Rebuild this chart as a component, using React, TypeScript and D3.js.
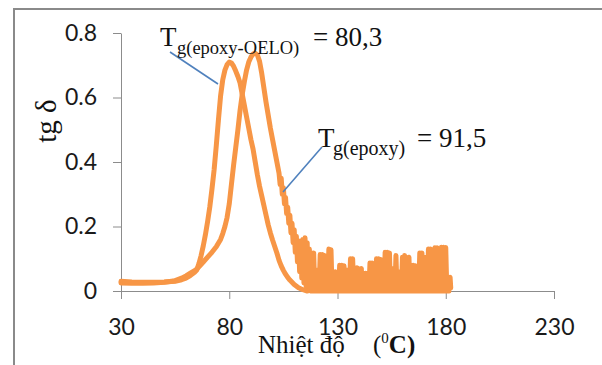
import React, { useRef, useEffect } from 'react';
import * as d3 from 'd3';

// tg delta vs temperature (DMA), two samples
const oeloTemp = [30, 35, 40, 45, 50, 55, 58, 60, 62, 64, 65, 66, 67, 68, 69, 70, 71, 72, 73, 74, 75, 76, 77, 78, 79, 80, 81, 82, 83, 84, 85, 86, 87, 88, 89, 90, 91, 92, 93, 94, 95, 96, 97, 98, 99, 100, 101, 102, 103, 104, 105, 106, 107, 108, 110, 112, 114, 116];
const oeloVal = [0.03, 0.028, 0.027, 0.027, 0.028, 0.03, 0.035, 0.04, 0.048, 0.058, 0.065, 0.085, 0.11, 0.14, 0.175, 0.215, 0.26, 0.315, 0.375, 0.45, 0.53, 0.605, 0.655, 0.685, 0.702, 0.71, 0.707, 0.697, 0.682, 0.665, 0.645, 0.61, 0.575, 0.54, 0.505, 0.47, 0.44, 0.4, 0.36, 0.325, 0.295, 0.265, 0.235, 0.205, 0.18, 0.158, 0.138, 0.118, 0.095, 0.078, 0.064, 0.052, 0.042, 0.034, 0.02, 0.01, 0.004, 0];

const epoxyTemp = [30, 35, 40, 45, 50, 55, 58, 60, 62, 64, 65, 66, 68, 70, 72, 74, 76, 77, 78, 79, 80, 81, 82, 83, 84, 85, 86, 87, 88, 89, 90, 91, 92, 93, 94, 95, 96, 97, 98, 99, 100, 101, 102, 103];
const epoxyVal = [0.025, 0.024, 0.024, 0.025, 0.027, 0.032, 0.04, 0.047, 0.055, 0.063, 0.068, 0.075, 0.09, 0.105, 0.12, 0.137, 0.16, 0.178, 0.2, 0.228, 0.27, 0.33, 0.39, 0.445, 0.5, 0.56, 0.61, 0.65, 0.685, 0.71, 0.725, 0.735, 0.737, 0.732, 0.712, 0.675, 0.63, 0.585, 0.545, 0.505, 0.47, 0.435, 0.4, 0.365];

// noisy tail of the epoxy curve [temp, tg delta]
const epoxyTail: [number, number][] = [
  [103.5, 0.33], [104, 0.35], [104.5, 0.3], [105, 0.32], [105.5, 0.27], [106, 0.29], [106.5, 0.24], [107, 0.26],
  [107.5, 0.21], [108, 0.235], [108.5, 0.18], [109, 0.21], [109.5, 0.15], [110, 0.19], [110.5, 0.12], [111, 0.17],
  [111.5, 0.09], [112, 0.155], [112.5, 0.06], [113, 0.155], [113.5, 0.04], [114, 0.16], [114.5, 0.025], [115, 0.165],
  [115.5, 0.015], [116, 0.15], [116.5, 0.008], [117, 0.13], [117.5, 0],
  [118, 0.118], [118.5, 0], [119, 0.118], [119.5, 0], [120, 0.065], [120.5, 0], [121, 0.065], [121.5, 0],
  [122, 0.113], [122.5, 0], [123, 0.113], [123.5, 0], [124, 0.11], [124.5, 0], [125, 0.06], [125.5, 0],
  [126, 0.13], [126.5, 0], [127, 0.128], [127.5, 0], [128, 0.06], [128.5, 0], [129, 0.06], [129.5, 0],
  [130, 0.055], [130.5, 0], [131, 0.08], [131.5, 0], [132, 0.08], [132.5, 0], [133, 0.078], [133.5, 0],
  [134, 0.065], [134.5, 0], [135, 0.065], [135.5, 0], [136, 0.1], [136.5, 0], [137, 0.1], [137.5, 0],
  [138, 0.07], [138.5, 0], [139, 0.072], [139.5, 0], [140, 0.068], [140.5, 0], [141, 0.07], [141.5, 0],
  [142, 0.055], [142.5, 0], [143, 0.055], [143.5, 0], [144, 0.055], [144.5, 0], [145, 0.087], [145.5, 0],
  [146, 0.087], [146.5, 0], [147, 0.085], [147.5, 0], [148, 0.1], [148.5, 0], [149, 0.1], [149.5, 0],
  [150, 0.098], [150.5, 0], [151, 0.065], [151.5, 0], [152, 0.12], [152.5, 0], [153, 0.12], [153.5, 0],
  [154, 0.118], [154.5, 0], [155, 0.07], [155.5, 0], [156, 0.07], [156.5, 0], [157, 0.11], [157.5, 0],
  [158, 0.06], [158.5, 0], [159, 0.06], [159.5, 0], [160, 0.105], [160.5, 0], [161, 0.11], [161.5, 0],
  [162, 0.1], [162.5, 0], [163, 0.105], [163.5, 0], [164, 0.08], [164.5, 0], [165, 0.08], [165.5, 0],
  [166, 0.078], [166.5, 0], [167, 0.07], [167.5, 0], [168, 0.118], [168.5, 0], [169, 0.118], [169.5, 0],
  [170, 0.105], [170.5, 0], [171, 0.105], [171.5, 0], [172, 0.13], [172.5, 0], [173, 0.13], [173.5, 0],
  [174, 0.128], [174.5, 0], [175, 0.134], [175.5, 0], [176, 0.134], [176.5, 0], [177, 0.1], [177.5, 0],
  [178, 0.136], [178.5, 0], [179, 0.136], [179.5, 0], [180, 0.135], [180.5, 0], [181, 0.043], [181.5, 0],
  [182, 0.043], [182.3, 0.01],
];

const xTicks = [30, 80, 130, 180, 230];
const yTicks = [0, 0.2, 0.4, 0.6, 0.8];
const yTickLabels = ['0', '0.2', '0.4', '0.6', '0.8'];

const W = 602;
const H = 365;

function DmaChart() {
  const ref = useRef<SVGSVGElement>(null);

  useEffect(() => {
    const svg = d3.select(ref.current);
    svg.selectAll('*').remove();

    const x = d3.scaleLinear().domain([30, 230]).range([121, 554]);
    const y = d3.scaleLinear().domain([0, 0.8]).range([291, 33]);

    svg.append('rect')
      .attr('width', W).attr('height', H).attr('fill', '#fff');

    // outer chart frame (runs off the right / bottom of the crop)
    svg.append('rect')
      .attr('x', 14).attr('y', 9)
      .attr('width', 620).attr('height', 380)
      .attr('fill', 'none')
      .attr('stroke', '#8a8a8a')
      .attr('stroke-width', 2);

    const axisColor = '#8c8c8c';
    const tickFont = 'Lato, "Open Sans", sans-serif';

    const gy = svg.append('g')
      .attr('transform', `translate(${x(30)},0)`)
      .call(d3.axisLeft(y).tickValues(yTicks).tickSize(8).tickSizeOuter(0).tickPadding(16)
        .tickFormat((d, i) => yTickLabels[i]));
    const gx = svg.append('g')
      .attr('transform', `translate(0,${y(0)})`)
      .call(d3.axisBottom(x).tickValues(xTicks).tickSize(8).tickSizeOuter(0).tickPadding(20)
        .tickFormat(d3.format('d')));

    [gy, gx].forEach(g => {
      g.select('.domain').attr('stroke', axisColor);
      g.selectAll('.tick line').attr('stroke', axisColor);
      g.selectAll('.tick text')
        .attr('fill', '#1a1a1a')
        .style('font-family', tickFont)
        .style('font-size', '23px');
    });

    const line = d3.line<[number, number]>()
      .x(d => x(d[0]))
      .y(d => y(d[1]))
      .curve(d3.curveLinear);

    const oelo: [number, number][] = oeloTemp.map((t, i) => [t, oeloVal[i]]);
    const epoxy: [number, number][] = epoxyTemp.map((t, i) => [t, epoxyVal[i]] as [number, number]).concat(epoxyTail);

    const orange = '#F79646';
    [epoxy, oelo].forEach(series => {
      svg.append('path')
        .datum(series)
        .attr('d', line)
        .attr('fill', 'none')
        .attr('stroke', orange)
        .attr('stroke-width', 5)
        .attr('stroke-linejoin', 'round')
        .attr('stroke-linecap', 'round');
    });

    // leader lines
    const blue = '#4F81BD';
    svg.append('line')
      .attr('x1', 170).attr('y1', 52).attr('x2', 218).attr('y2', 84)
      .attr('stroke', blue).attr('stroke-width', 1.6);
    svg.append('line')
      .attr('x1', 322).attr('y1', 147).attr('x2', 283).attr('y2', 192)
      .attr('stroke', blue).attr('stroke-width', 1.6);

    const serif = '"Liberation Serif", "Times New Roman", serif';

    const ann1 = svg.append('text')
      .attr('font-family', serif).attr('fill', '#111');
    ann1.append('tspan').attr('x', 160).attr('y', 46).attr('font-size', 27).text('T');
    ann1.append('tspan').attr('x', 177).attr('y', 54).attr('font-size', 18.5).text('g(epoxy-OELO)');
    ann1.append('tspan').attr('x', 313).attr('y', 46).attr('font-size', 27).text('= 80,3');

    const ann2 = svg.append('text')
      .attr('font-family', serif).attr('fill', '#111');
    ann2.append('tspan').attr('x', 318).attr('y', 147).attr('font-size', 27).text('T');
    ann2.append('tspan').attr('x', 333).attr('y', 155).attr('font-size', 20).text('g(epoxy)');
    ann2.append('tspan').attr('x', 417).attr('y', 147).attr('font-size', 27).text('= 91,5');

    // axis titles
    svg.append('text')
      .attr('transform', 'translate(56,121) rotate(-90)')
      .attr('text-anchor', 'middle')
      .attr('font-family', serif)
      .attr('font-size', 29)
      .attr('fill', '#111')
      .text('tg δ');

    const xt = svg.append('text')
      .attr('font-family', serif).attr('font-size', 25).attr('fill', '#111');
    xt.append('tspan').attr('x', 258).attr('y', 353).text('Nhiệt độ');
    xt.append('tspan').attr('x', 373).attr('y', 353).text('(');
    xt.append('tspan').attr('y', 343).attr('font-size', 15).text('0');
    xt.append('tspan').attr('y', 353).attr('font-weight', 'bold').text('C)');
  }, []);

  return <svg ref={ref} width={W} height={H} style={{ position: 'absolute', left: 0, top: 0 }} />;
}

export default function App() {
  return <DmaChart />;
}
